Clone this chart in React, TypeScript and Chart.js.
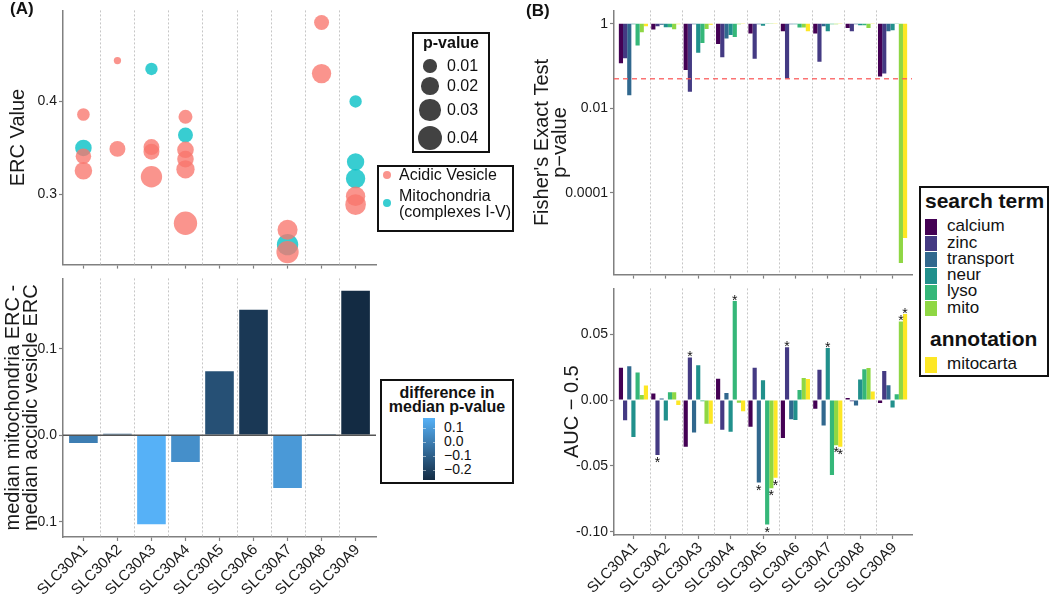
import React, { useEffect, useRef } from 'react';
import { Chart, registerables } from 'chart.js';

Chart.register(...registerables);

const FONT = "'Liberation Sans', Arial, Helvetica, sans-serif";
const AXIS_COLOR = '#808080';
const TEXT_COLOR = '#1a1a1a';
const PINK = 'rgba(248,118,109,0.78)';
const TEAL = 'rgba(0,191,196,0.78)';
const GRAD_LOW = [19, 43, 67];
const GRAD_HIGH = [86, 177, 247];

// ---------- categories ----------
const genes = ['SLC30A1', 'SLC30A2', 'SLC30A3', 'SLC30A4', 'SLC30A5', 'SLC30A6', 'SLC30A7', 'SLC30A8', 'SLC30A9'];

// ---------- Panel A (top): ERC values ----------
const acidicGene = [0, 0, 0, 1, 1, 2, 2, 2, 3, 3, 3, 3, 3, 6, 6, 7, 7, 8, 8];
const acidicERC = [0.386, 0.341, 0.3255, 0.444, 0.349, 0.351, 0.346, 0.319, 0.3835, 0.348, 0.338, 0.327, 0.269, 0.262, 0.238, 0.485, 0.43, 0.298, 0.289];
const acidicP = [0.009, 0.015, 0.02, 0.001, 0.016, 0.016, 0.016, 0.031, 0.0116, 0.0176, 0.0176, 0.022, 0.0376, 0.027, 0.034, 0.0138, 0.025, 0.025, 0.0287];
const mitoGene = [0, 2, 3, 6, 8, 8, 8];
const mitoERC = [0.35, 0.435, 0.364, 0.246, 0.4, 0.335, 0.317];
const mitoP = [0.0176, 0.0084, 0.0138, 0.031, 0.0084, 0.0195, 0.025];
const pLegendValues = [0.01, 0.02, 0.03, 0.04];
const aTopTicks = [0.3, 0.4];

// ---------- Panel A (bottom): median differences ----------
const medianDiffERC = [-0.01, 0.003, -0.104, -0.032, 0.075, 0.146, -0.062, 0.002, 0.168];
const medianDiffP = [0.002, -0.098, 0.173, 0.06, -0.152, -0.233, 0.092, -0.098, -0.278];
const aBottomTicks = [-0.1, 0, 0.1];
const diffLegendTicks = [0.1, 0.0, -0.1, -0.2];

// ---------- Panel B ----------
const searchTerms = ['calcium', 'zinc', 'transport', 'neur', 'lyso', 'mito'];
const annotationTerms = ['mitocarta'];
const termColors = ['#440154', '#443A83', '#31688E', '#21908C', '#35B779', '#8FD744', '#FDE725'];

// Fisher's exact test p-values
const fisherCalcium = [0.116, 0.73, 0.0805, 0.334, 0.593, 0.67, 0.59, 0.8, 0.0568];
const fisherZinc = [0.153, 0.87, 0.0247, 0.161, 0.148, 0.051, 0.126, 0.67, 0.0664];
const fisherTransport = [0.0203, 0.95, 0.97, 0.45, 0.98, 0.98, 0.87, 0.97, 0.67];
const fisherNeur = [0.98, 0.83, 0.206, 0.545, 0.9, 0.97, 0.67, 0.92, 0.7];
const fisherLyso = [0.306, 0.83, 0.352, 0.49, 0.99, 0.82, 0.98, 0.92, 0.99];
const fisherMito = [0.635, 0.74, 0.75, 0.98, 0.99, 0.82, 0.98, 0.8, 2.2e-6];
const fisherMitocarta = [0.87, 0.98, 0.95, 0.99, 0.99, 0.67, 0.99, 0.99, 8.6e-6];
const fisherThreshold = 0.05;
const bTopTicks = [1e-4, 1e-2, 1];

// AUC - 0.5
const aucCalcium = [0.0246, 0.0049, -0.0354, 0.0162, -0.0202, -0.0288, -0.0066, 0.0015, -0.0022];
const aucZinc = [-0.0153, -0.0418, 0.0324, -0.0226, 0.0246, 0.0401, 0.0231, -0.001, 0.0221];
const aucTransport = [0.0256, 0.0012, -0.0246, 0.0054, -0.0627, -0.0145, -0.0194, -0.0042, 0.0113];
const aucNeur = [-0.028, -0.0155, 0.0265, -0.024, 0.015, -0.0152, 0.0396, 0.0157, -0.0057];
const aucLyso = [0.0209, 0.0059, -0.001, 0.0752, -0.0946, 0.0076, -0.057, 0.0234, 0.0044];
const aucMito = [0.0039, 0.0059, -0.018, -0.002, -0.0669, 0.0167, -0.0344, 0.0243, 0.0597];
const aucMitocarta = [0.011, -0.0037, -0.018, -0.0086, -0.059, 0.016, -0.0354, 0.0064, 0.0654];
const bBottomTicks = [-0.1, -0.05, 0, 0.05];

// significance (asterisks) per term, per gene
const sigCalcium = [0, 0, 0, 0, 0, 0, 0, 0, 0];
const sigZinc = [0, 1, 1, 0, 0, 1, 0, 0, 0];
const sigTransport = [0, 0, 0, 0, 1, 0, 0, 0, 0];
const sigNeur = [0, 0, 0, 0, 0, 0, 1, 0, 0];
const sigLyso = [0, 0, 0, 1, 1, 0, 0, 0, 0];
const sigMito = [0, 0, 0, 0, 1, 0, 1, 0, 1];
const sigMitocarta = [0, 0, 0, 0, 1, 0, 1, 0, 1];

const allTerms = [...searchTerms, ...annotationTerms];
const fisherSeries = [fisherCalcium, fisherZinc, fisherTransport, fisherNeur, fisherLyso, fisherMito, fisherMitocarta];
const aucSeries = [aucCalcium, aucZinc, aucTransport, aucNeur, aucLyso, aucMito, aucMitocarta];
const sigSeries = [sigCalcium, sigZinc, sigTransport, sigNeur, sigLyso, sigMito, sigMitocarta];

// ---------- helpers ----------
function sizeFor(p: number) {
  return Math.sqrt(10 + (p / 0.04) * 134);
}
const diffMin = Math.min(...medianDiffP);
const diffMax = Math.max(...medianDiffP);
function gradColor(v: number) {
  const t = Math.max(0, Math.min(1, (v - diffMin) / (diffMax - diffMin)));
  const c = GRAD_LOW.map((lo, i) => Math.round(lo + (GRAD_HIGH[i] - lo) * t));
  return `rgb(${c[0]},${c[1]},${c[2]})`;
}
const rgb = (c: number[]) => `rgb(${c[0]},${c[1]},${c[2]})`;

function xAxis(showLabels: boolean, height: number) {
  return {
    type: 'linear',
    min: -0.6,
    max: genes.length - 0.4,
    offset: false,
    bounds: 'data',
    afterBuildTicks: (s: any) => {
      s.ticks = genes.map((_, i) => ({ value: i }));
    },
    afterFit: (s: any) => {
      s.height = height;
    },
    grid: { display: true, offset: false, drawOnChartArea: false, drawTicks: true, tickLength: 4, tickWidth: 1.2, tickColor: AXIS_COLOR, color: AXIS_COLOR },
    border: { display: true, color: AXIS_COLOR, width: 1.5 },
    ticks: {
      display: showLabels,
      autoSkip: false,
      minRotation: 45,
      maxRotation: 45,
      padding: 0,
      labelOffset: 2,
      color: TEXT_COLOR,
      font: { family: FONT, size: 15 },
      callback: (v: any) => genes[Math.round(Number(v))] ?? '',
    },
  };
}

function yAxis(o: any) {
  return {
    type: o.type || 'linear',
    min: o.min,
    max: o.max,
    bounds: 'data',
    afterBuildTicks: (s: any) => {
      s.ticks = o.ticks.map((v: number) => ({ value: v }));
    },
    afterFit: (s: any) => {
      s.width = o.width;
    },
    grid: { display: true, drawOnChartArea: false, drawTicks: true, tickLength: 4, tickWidth: 1.2, tickColor: AXIS_COLOR, color: AXIS_COLOR },
    border: { display: true, color: AXIS_COLOR, width: 1.5 },
    ticks: { color: TEXT_COLOR, font: { family: FONT, size: 14 }, padding: 2, callback: (v: any) => o.fmt(Number(v)) },
    title: {
      display: true,
      text: o.title,
      color: TEXT_COLOR,
      font: { family: FONT, size: 20, lineHeight: 0.9 },
      padding: { top: o.titlePad, bottom: 0 },
    },
  };
}

function separators() {
  return {
    id: 'geneSeparators',
    beforeDatasetsDraw(chart: any) {
      const { ctx, chartArea, scales } = chart;
      ctx.save();
      ctx.strokeStyle = '#c6c6c6';
      ctx.lineWidth = 1;
      ctx.setLineDash([2, 2]);
      for (let i = 0; i < genes.length - 1; i++) {
        const x = Math.round(scales.x.getPixelForValue(i + 0.5)) + 0.5;
        ctx.beginPath();
        ctx.moveTo(x, chartArea.top);
        ctx.lineTo(x, chartArea.bottom);
        ctx.stroke();
      }
      ctx.restore();
    },
  };
}

function refLine(value: number, color: string, width: number, dash: number[]) {
  return {
    id: 'refLine',
    afterDatasetsDraw(chart: any) {
      const { ctx, chartArea, scales } = chart;
      const y = scales.y.getPixelForValue(value);
      ctx.save();
      ctx.strokeStyle = color;
      ctx.lineWidth = width;
      ctx.setLineDash(dash);
      ctx.beginPath();
      ctx.moveTo(chartArea.left, y);
      ctx.lineTo(chartArea.right, y);
      ctx.stroke();
      ctx.restore();
    },
  };
}

function stars() {
  return {
    id: 'sigStars',
    afterDatasetsDraw(chart: any) {
      const ctx = chart.ctx;
      ctx.save();
      ctx.fillStyle = '#111';
      ctx.font = `14px ${FONT}`;
      ctx.textAlign = 'center';
      ctx.textBaseline = 'alphabetic';
      sigSeries.forEach((flags, di) => {
        const meta = chart.getDatasetMeta(di);
        flags.forEach((f, j) => {
          if (!f) return;
          const el = meta.data[j];
          const v = aucSeries[di][j];
          const y = v >= 0 ? el.y + 4 : el.y + 12;
          ctx.fillText('*', el.x, y);
        });
      });
      ctx.restore();
    },
  };
}

const baseOptions = (padding: any) => ({
  responsive: false,
  animation: false,
  devicePixelRatio: 1,
  events: [],
  layout: { padding, autoPadding: false },
  plugins: { legend: { display: false }, tooltip: { enabled: false } },
});

const minusFmt1 = (v: number) => (Math.abs(v) < 1e-9 ? '0.0' : v < 0 ? '\u2212' + Math.abs(v).toFixed(1) : v.toFixed(1));

const aTopConfig = (): any => ({
  type: 'bubble',
  data: {
    datasets: [
      {
        label: 'Acidic Vesicle',
        data: acidicGene.map((g, i) => ({ x: g, y: acidicERC[i], r: sizeFor(acidicP[i]) })),
        backgroundColor: PINK,
        borderWidth: 0,
        clip: false,
      },
      {
        label: 'Mitochondria (complexes I-V)',
        data: mitoGene.map((g, i) => ({ x: g, y: mitoERC[i], r: sizeFor(mitoP[i]) })),
        backgroundColor: TEAL,
        borderWidth: 0,
        clip: false,
      },
    ],
  },
  options: {
    ...baseOptions({ top: 3, right: 4, bottom: 0, left: 0 }),
    scales: {
      x: xAxis(false, 4),
      y: yAxis({ min: 0.2245, max: 0.498, ticks: aTopTicks, fmt: (v: number) => v.toFixed(1), width: 63, title: 'ERC Value', titlePad: 9 }),
    },
  },
  plugins: [separators()],
});

const aBottomConfig = (): any => ({
  type: 'bar',
  data: {
    datasets: [
      {
        label: 'median difference',
        data: genes.map((_, i) => ({ x: i, y: medianDiffERC[i] })),
        backgroundColor: medianDiffP.map((v) => gradColor(v)),
        borderColor: 'rgba(255,255,255,0.45)',
        borderWidth: 1,
        categoryPercentage: 0.9,
        barPercentage: 1,
      },
    ],
  },
  options: {
    ...baseOptions({ top: 3, right: 4, bottom: 0, left: 0 }),
    scales: {
      x: xAxis(true, 59),
      y: yAxis({
        min: -0.1176,
        max: 0.1812,
        ticks: aBottomTicks,
        fmt: minusFmt1,
        width: 63,
        title: ['median mitochondria ERC -', 'median accidic vesicle ERC'],
        titlePad: 4,
      }),
    },
  },
  plugins: [separators(), refLine(0, '#555555', 1.5, [])],
});

const bTopConfig = (): any => ({
  type: 'bar',
  data: {
    datasets: allTerms.map((t, k) => ({
      label: t,
      data: genes.map((_, i) => ({ x: i, y: [fisherSeries[k][i], 1] })),
      backgroundColor: termColors[k],
      borderWidth: 0,
      categoryPercentage: 0.9,
      barPercentage: 1,
    })),
  },
  options: {
    ...baseOptions({ top: 5, right: 4, bottom: 0, left: 0 }),
    scales: {
      x: xAxis(false, 4),
      y: yAxis({
        type: 'logarithmic',
        min: 1.164e-6,
        max: 2.075,
        ticks: bTopTicks,
        fmt: (v: number) => String(v),
        width: 94,
        title: ["Fisher's Exact Test", 'p\u2212value'],
        titlePad: 13,
      }),
    },
  },
  plugins: [separators(), refLine(fisherThreshold, 'rgba(250,90,90,0.85)', 1.5, [5, 4])],
});

const bBottomConfig = (): any => ({
  type: 'bar',
  data: {
    datasets: allTerms.map((t, k) => ({
      label: t,
      data: genes.map((_, i) => ({ x: i, y: aucSeries[k][i] })),
      backgroundColor: termColors[k],
      borderWidth: 0,
      categoryPercentage: 0.9,
      barPercentage: 1,
    })),
  },
  options: {
    ...baseOptions({ top: 3, right: 4, bottom: 0, left: 0 }),
    scales: {
      x: xAxis(true, 61),
      y: yAxis({
        min: -0.1025,
        max: 0.0848,
        ticks: bBottomTicks,
        fmt: (v: number) => v.toFixed(2),
        width: 94,
        title: 'AUC \u2212 0.5',
        titlePad: 43,
      }),
    },
  },
  plugins: [separators(), stars()],
});

function ChartCanvas({ left, top, width, height, config }: any) {
  const ref = useRef<HTMLCanvasElement | null>(null);
  useEffect(() => {
    if (!ref.current) return;
    const chart = new Chart(ref.current, config());
    return () => chart.destroy();
  }, []);
  return <canvas ref={ref} width={width} height={height} style={{ position: 'absolute', left, top, width, height }} />;
}

function T({ x, y, size, bold, center, children }: any) {
  return (
    <div
      style={{
        position: 'absolute',
        left: x,
        top: y - 0.63 * size,
        fontSize: size,
        lineHeight: `${1.2 * size}px`,
        fontWeight: bold ? 700 : 400,
        whiteSpace: 'nowrap',
        transform: center ? 'translateX(-50%)' : undefined,
      }}
    >
      {children}
    </div>
  );
}

function Dot({ cx, cy, r, color }: any) {
  return <div style={{ position: 'absolute', left: cx - r, top: cy - r, width: 2 * r, height: 2 * r, borderRadius: '50%', background: color }} />;
}

function LegendBox({ left, top, width, height }: any) {
  return <div style={{ position: 'absolute', left, top, width, height, border: '2px solid #111', boxSizing: 'border-box' }} />;
}

export default function App() {
  const pYs = [66, 86, 110, 138];
  const diffYs = [428, 442, 456, 470];
  const termYs = [227, 243.3, 259.6, 275.9, 292.2, 308.5];
  return (
    <div
      style={{
        position: 'fixed',
        left: 0,
        top: 0,
        width: 1050,
        height: 596,
        background: '#fff',
        fontFamily: FONT,
        color: '#111',
        overflow: 'hidden',
      }}
    >
      <ChartCanvas left={0} top={0} width={380} height={275} config={aTopConfig} />
      <ChartCanvas left={0} top={268} width={380} height={328} config={aBottomConfig} />
      <ChartCanvas left={520} top={0} width={396} height={285} config={bTopConfig} />
      <ChartCanvas left={520} top={278} width={396} height={318} config={bBottomConfig} />

      <T x={10} y={10} size={17} bold>(A)</T>
      <T x={526} y={12} size={17} bold>(B)</T>

      {/* p-value size legend */}
      <LegendBox left={412} top={32} width={78} height={121} />
      <T x={451} y={43} size={16} bold center>p-value</T>
      {pLegendValues.map((p, i) => (
        <React.Fragment key={p}>
          <Dot cx={430} cy={pYs[i]} r={sizeFor(p)} color="rgba(40,40,40,0.88)" />
          <T x={447} y={pYs[i]} size={16}>{p.toFixed(2)}</T>
        </React.Fragment>
      ))}

      {/* group colour legend */}
      <LegendBox left={377} top={165} width={137} height={67} />
      <Dot cx={387} cy={175} r={4.2} color={PINK} />
      <T x={399} y={175} size={16}>Acidic Vesicle</T>
      <Dot cx={387} cy={203} r={4.2} color={TEAL} />
      <T x={399} y={196} size={16}>Mitochondria</T>
      <T x={399} y={212} size={16}>(complexes I-V)</T>

      {/* difference gradient legend */}
      <LegendBox left={380} top={379} width={134} height={105} />
      <T x={447} y={393} size={16} bold center>difference in</T>
      <T x={447} y={407} size={16} bold center>median p-value</T>
      <div
        style={{
          position: 'absolute',
          left: 423,
          top: 418,
          width: 12,
          height: 62,
          background: `linear-gradient(to bottom, ${rgb(GRAD_HIGH)}, ${rgb(GRAD_LOW)})`,
        }}
      />
      {diffLegendTicks.map((v, i) => (
        <React.Fragment key={v}>
          <div style={{ position: 'absolute', left: 423, top: diffYs[i], width: 2.5, height: 1, background: 'rgba(255,255,255,0.5)' }} />
          <div style={{ position: 'absolute', left: 432.5, top: diffYs[i], width: 2.5, height: 1, background: 'rgba(255,255,255,0.5)' }} />
          <T x={444} y={diffYs[i]} size={14}>{minusFmt1(v)}</T>
        </React.Fragment>
      ))}

      {/* search term legend */}
      <LegendBox left={919} top={186} width={130} height={191} />
      <T x={925} y={201} size={21} bold>search term</T>
      {searchTerms.map((t, i) => (
        <React.Fragment key={t}>
          <div style={{ position: 'absolute', left: 925, top: termYs[i] - 7.6, width: 12, height: 15.3, background: termColors[i] }} />
          <T x={947} y={termYs[i]} size={17}>{t}</T>
        </React.Fragment>
      ))}
      <T x={930} y={339} size={21} bold>annotation</T>
      {annotationTerms.map((t, i) => (
        <React.Fragment key={t}>
          <div style={{ position: 'absolute', left: 925, top: 365 - 7.6, width: 12, height: 15.3, background: termColors[searchTerms.length + i] }} />
          <T x={947} y={365} size={17}>{t}</T>
        </React.Fragment>
      ))}
    </div>
  );
}
